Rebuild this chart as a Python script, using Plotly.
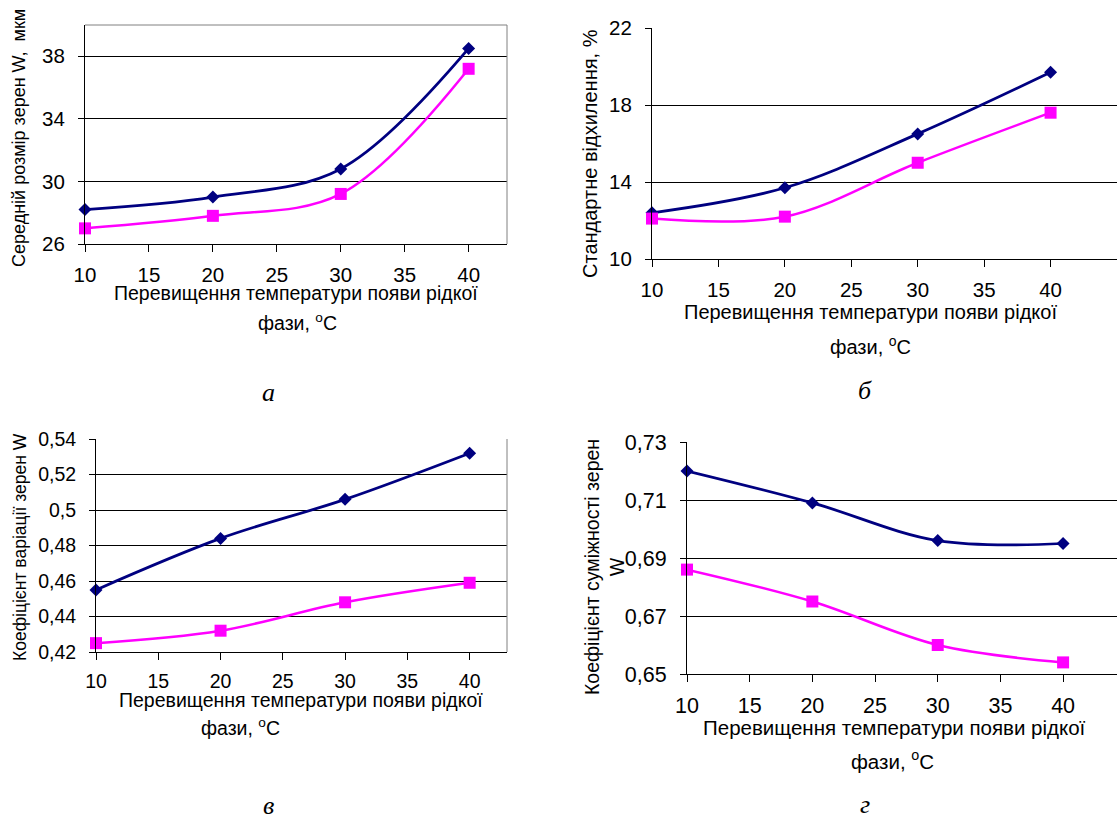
import plotly.graph_objects as go

W, H = 1117, 816

temps = [10, 20, 30, 40]

# panel а – mean grain size
a_blue = [28.2, 29.0, 30.8, 38.5]
a_pink = [27.0, 27.8, 29.2, 37.2]
# panel б – standard deviation
b_blue = [12.4, 13.7, 16.5, 19.7]
b_pink = [12.1, 12.2, 15.0, 17.6]
# panel в – variation coefficient
c_blue = [0.455, 0.484, 0.506, 0.532]
c_pink = [0.425, 0.432, 0.448, 0.459]
# panel г – contiguity coefficient
d_blue = [0.720, 0.709, 0.696, 0.695]
d_pink = [0.686, 0.675, 0.660, 0.654]

x_ticks = [10, 15, 20, 25, 30, 35, 40]
a_yticks = [26, 30, 34, 38]
b_yticks = [10, 14, 18, 22]
c_yticks = [0.42, 0.44, 0.46, 0.48, 0.50, 0.52, 0.54]
c_yticktext = ["0,42", "0,44", "0,46", "0,48", "0,5", "0,52", "0,54"]
d_yticks = [0.65, 0.67, 0.69, 0.71, 0.73]
d_yticktext = ["0,65", "0,67", "0,69", "0,71", "0,73"]

x_title1 = "Перевищення температури появи рідкої"
x_title2 = "фази, <sup>o</sup>C"
a_ytitle = "Середній розмір зерен W,  мкм"
b_ytitle = "Стандартне відхилення, %"
c_ytitle = "Коефіцієнт варіації зерен W"
d_ytitle = "Коефіцієнт суміжності зерен<br>W"
panel_labels = ["а", "б", "в", "г"]

FONT = "Liberation Sans, Arial, sans-serif"
SERIF = "Liberation Serif, Times New Roman, serif"
NAVY = "#000080"
MAGENTA = "#FF00FF"


def px_x(x):
    return x / W


def px_y(y):
    return 1 - y / H


# plot areas in pixels: (left, right, top, bottom)
areas = {
    "a": (85, 507, 25, 244),
    "b": (652, 1117, 28, 259),
    "c": (96, 507, 439, 652),
    "d": (687, 1117, 442, 674),
}
xranges = {"a": [10, 43], "b": [10, 45], "c": [10, 43], "d": [10, 44.3]}
yranges = {"a": [26, 40], "b": [10, 22], "c": [0.42, 0.54], "d": [0.65, 0.73]}
yticks = {"a": (a_yticks, [str(v) for v in a_yticks]),
          "b": (b_yticks, [str(v) for v in b_yticks]),
          "c": (c_yticks, c_yticktext),
          "d": (d_yticks, d_yticktext)}
series = {"a": (a_blue, a_pink), "b": (b_blue, b_pink),
          "c": (c_blue, c_pink), "d": (d_blue, d_pink)}
tickfs = {"a": 20.5, "b": 20.5, "c": 19.5, "d": 21.5}

fig = go.Figure()
layout = dict(template="none", width=W, height=H, margin=dict(l=0, r=0, t=0, b=0, pad=0),
              paper_bgcolor="white", plot_bgcolor="white", showlegend=False,
              font=dict(family=FONT, color="black"))
shapes = []
for i, key in enumerate(["a", "b", "c", "d"]):
    n = "" if i == 0 else str(i + 1)
    l, r, t, b = areas[key]
    blue, pink = series[key]
    fig.add_trace(go.Scatter(x=temps, y=blue, mode="lines+markers",
                             line=dict(color=NAVY, width=2.75, shape="spline", smoothing=1),
                             marker=dict(symbol="diamond", size=10, color=NAVY),
                             cliponaxis=False, xaxis="x" + n, yaxis="y" + n))
    fig.add_trace(go.Scatter(x=temps, y=pink, mode="lines+markers",
                             line=dict(color=MAGENTA, width=2.5, shape="spline", smoothing=1),
                             marker=dict(symbol="square", size=12, color=MAGENTA),
                             cliponaxis=False, xaxis="x" + n, yaxis="y" + n))
    layout["xaxis" + n] = dict(domain=[px_x(l), min(1, px_x(r))], anchor="y" + n,
                               automargin=False,
                               range=xranges[key], tickmode="array", tickvals=x_ticks,
                               showgrid=False, zeroline=False, showline=True,
                               linecolor="black", linewidth=1, ticks="outside",
                               ticklen=7, tickcolor="black", tickwidth=1,
                               tickfont=dict(size=tickfs[key], family=FONT, color="black"),
                               ticklabelstandoff=5)
    tv, tt = yticks[key]
    layout["yaxis" + n] = dict(domain=[px_y(b), px_y(t)], anchor="x" + n,
                               automargin=False,
                               range=yranges[key], tickmode="array", tickvals=tv, ticktext=tt,
                               showgrid=True, gridcolor="black", gridwidth=1,
                               zeroline=False, showline=True, linecolor="black",
                               linewidth=1, ticks="outside", ticklen=6, tickwidth=1,
                               tickcolor="black",
                               tickfont=dict(size=tickfs[key], family=FONT, color="black"),
                               ticklabelstandoff=9)
    xd = "x" + n + " domain"
    yd = "y" + n + " domain"
    if key in ("a", "c"):
        shapes.append(dict(type="line", xref=xd, yref=yd, x0=1, x1=1, y0=0, y1=1,
                           line=dict(color="#808080", width=1)))
    if key == "a":
        shapes.append(dict(type="line", xref=xd, yref=yd, x0=0, x1=1, y0=1, y1=1,
                           line=dict(color="#808080", width=1)))

layout["shapes"] = shapes

ann = []


def text(x, y, s, size=17, angle=0, family=FONT, italic=False):
    ann.append(dict(x=px_x(x), y=px_y(y), xref="paper", yref="paper", text=s,
                    showarrow=False, textangle=angle, xanchor="center", yanchor="middle",
                    font=dict(size=size, family=family, color="black",
                              style="italic" if italic else "normal")))


# x titles
text(296, 293, x_title1, size=19.5)
text(297, 322, x_title2, size=19.5)
text(870, 312, x_title1, size=20)
text(870, 345, x_title2, size=20)
text(301, 700, x_title1, size=19.5)
text(240, 727, x_title2, size=19.5)
text(894, 727, x_title1, size=20.5)
text(892, 760, x_title2, size=20.5)
# y titles
text(19, 138, a_ytitle, size=18, angle=-90)
text(590, 154, b_ytitle, size=20, angle=-90)
text(20, 547, c_ytitle, size=17.5, angle=-90)
text(604, 567, d_ytitle, size=19.5, angle=-90)
# panel labels
text(268, 392, panel_labels[0], size=26, family=SERIF, italic=True)
text(865, 390, panel_labels[1], size=26, family=SERIF, italic=True)
text(268, 805, panel_labels[2], size=26, family=SERIF, italic=True)
text(865, 804, panel_labels[3], size=26, family=SERIF, italic=True)

layout["annotations"] = ann
fig.update_layout(**layout)
fig.write_html(
    "out.html",
    config={"displayModeBar": False},
    post_script=("document.documentElement.style.margin='0';"
                 "document.documentElement.style.overflow='hidden';"
                 "document.body.style.margin='0';document.body.style.padding='0';"
                 "document.body.style.overflow='hidden';"),
)
